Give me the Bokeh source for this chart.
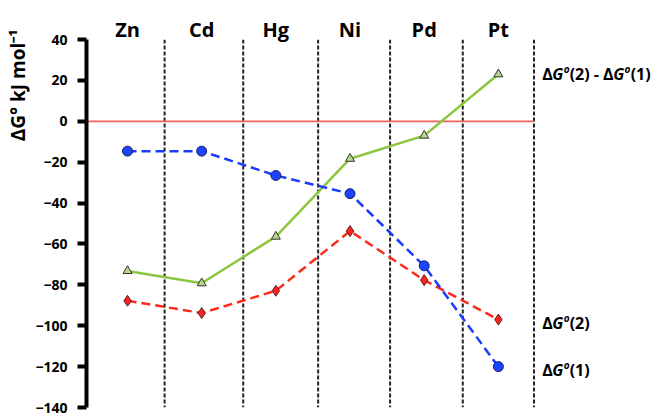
from bokeh.plotting import figure
from bokeh.models import Range1d, FixedTicker, Title
from bokeh.core.properties import value
from bokeh.embed import file_html
from bokeh.resources import INLINE

metals = ["Zn", "Cd", "Hg", "Ni", "Pd", "Pt"]
dg1 = [-14.6, -14.6, -26.5, -35.4, -70.7, -120.0]
dg2 = [-87.8, -93.8, -82.9, -53.7, -77.7, -97.0]
diff = [-73.2, -79.2, -56.4, -18.3, -7.0, 23.0]
dividers = [0.5, 1.56, 2.57, 3.54, 4.52, 5.48]
y_ticks = [40, 20, 0, -20, -40, -60, -80, -100, -120, -140]

FONT = "Open Sans"
xs = list(range(len(metals)))

p = figure(width=652, height=416, output_backend="svg", toolbar_location=None,
           x_range=Range1d(-0.553, 7.078), y_range=Range1d(-140, 40),
           x_axis_location="above", min_border_left=82, min_border_right=0,
           min_border_top=39, min_border_bottom=9, title=None)
p.outline_line_color = None
p.grid.visible = False

xa = p.xaxis[0]
xa.ticker = FixedTicker(ticks=xs)
xa.major_label_overrides = {i: m for i, m in enumerate(metals)}
xa.axis_line_color = None
xa.major_tick_line_color = None
xa.minor_tick_line_color = None
xa.major_tick_out = 0
xa.major_tick_in = 0
xa.minor_tick_out = 0
xa.major_label_standoff = -3
xa.major_label_text_font = FONT
xa.major_label_text_font_style = "bold"
xa.major_label_text_font_size = "20px"
xa.major_label_text_color = "black"

ya = p.yaxis[0]
ya.ticker = FixedTicker(ticks=y_ticks)
ya.axis_line_width = 4
ya.axis_line_color = "black"
ya.major_tick_line_width = 4
ya.major_tick_out = 9
ya.major_tick_in = 0
ya.minor_tick_line_color = None
ya.major_label_standoff = 10
ya.major_label_text_font = FONT
ya.major_label_text_font_style = "bold"
ya.major_label_text_font_size = "14px"
ya.major_label_text_color = "black"

p.add_layout(Title(text="ΔG° kJ mol⁻¹", align="right", offset=-10, standoff=4,
                   text_font=FONT, text_font_style="bold", text_font_size="19px",
                   text_color="black"), "left")

p.segment(x0=dividers, x1=dividers, y0=[40] * len(dividers), y1=[-140] * len(dividers),
          line_color="#222222", line_width=2, line_dash="4 2")
p.segment(x0=[-0.553], x1=[dividers[-1]], y0=[0], y1=[0], line_color="#f0605a", line_width=1.8)

p.line(xs, diff, line_color="#8cc63f", line_width=2.5)
p.line(xs, dg2, line_color="#ff2a1a", line_width=2.5, line_dash="9 5")
p.line(xs, dg1, line_color="#1a3cff", line_width=2.5, line_dash="9 5")
p.scatter(xs, diff, marker="triangle", size=9, fill_color="#b4d98a", line_color="#333333", line_width=1)
p.scatter(xs, dg2, marker="diamond", size=11, fill_color="#ff2020", line_color="#552222", line_width=1)
p.scatter(xs, dg1, marker="circle", size=10, fill_color="#1a44ff", line_color="#1a2260", line_width=1)

def rich(x, y, pieces):
    for txt, style, size, dx, dy in pieces:
        p.text(x=[x], y=[y], text=[txt], x_offset=dx, y_offset=dy,
               text_font=value(FONT), text_font_style=style, text_font_size=size,
               text_baseline="middle", text_align="left", text_color="black")

lx = 5.59
rich(lx, diff[-1], [("Δ", "bold", "16px", 0, 0), ("G", "bold italic", "16px", 10.2, 0),
                    ("o", "bold italic", "10px", 21.5, -5), ("(2) - Δ", "bold", "16px", 27.5, 0),
                    ("G", "bold italic", "16px", 71, 0), ("o", "bold italic", "10px", 82.3, -5),
                    ("(1)", "bold", "16px", 88.5, 0)])
rich(lx, dg2[-1], [("Δ", "bold", "16px", 0, 3), ("G", "bold italic", "16px", 10.2, 3),
                   ("o", "bold italic", "10px", 21.5, -2), ("(2)", "bold", "16px", 27.5, 3)])
rich(lx, dg1[-1], [("Δ", "bold", "16px", 0, 3), ("G", "bold italic", "16px", 10.2, 3),
                   ("o", "bold italic", "10px", 21.5, -2), ("(1)", "bold", "16px", 27.5, 3)])

open("out.html", "w").write(file_html(p, INLINE))
